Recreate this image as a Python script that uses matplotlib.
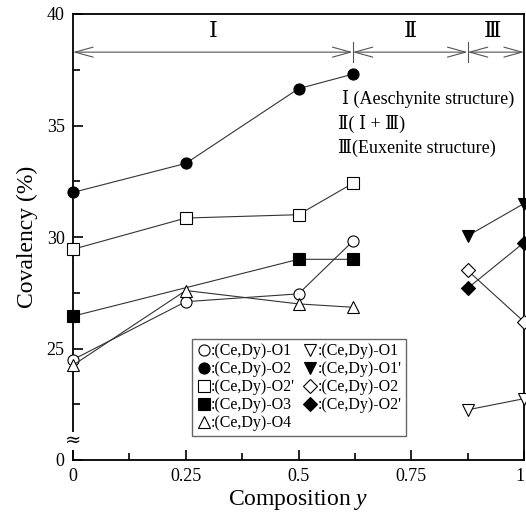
import matplotlib
matplotlib.use("Agg")
import matplotlib.pyplot as plt
from matplotlib.lines import Line2D
import matplotlib.transforms as mtransforms

plt.rcParams['font.family'] = ['Liberation Serif', 'DejaVu Serif']
plt.rcParams['mathtext.fontset'] = 'custom'
plt.rcParams['mathtext.rm'] = 'Liberation Serif'
plt.rcParams['mathtext.it'] = 'Liberation Serif:italic'

# ---- data ----
x_aes = [0, 0.25, 0.5, 0.62]
aes_O1 = [24.5, 27.1, 27.45, 29.8]
aes_O2 = [32.0, 33.3, 36.65, 37.3]
aes_O2p = [29.45, 30.85, 31.0, 32.4]
x_aes_O3 = [0, 0.5, 0.62]
aes_O3 = [26.45, 29.0, 29.0]
aes_O4 = [24.25, 27.6, 27.0, 26.85]

x_eux = [0.875, 1.0]
eux_O1 = [22.25, 22.75]
eux_O1p = [30.05, 31.5]
eux_O2 = [28.5, 26.2]
eux_O2p = [27.7, 29.75]

region_bounds = [0.0, 0.62, 0.875, 1.0]
region_names = ['Ⅰ', 'Ⅱ', 'Ⅲ']
region_label_x = [0.31, 0.747, 0.93]

xticks = [0, 0.25, 0.5, 0.75, 1]
xticklabels = ['0', '0.25', '0.5', '0.75', '1']
yticks = [20, 25, 30, 35, 40]
yticklabels = ['0', '25', '30', '35', '40']

legend_labels = [':(Ce,Dy)-O1', ':(Ce,Dy)-O2', ":(Ce,Dy)-O2'", ':(Ce,Dy)-O3', ':(Ce,Dy)-O4',
                 ':(Ce,Dy)-O1', ":(Ce,Dy)-O1'", ':(Ce,Dy)-O2', ":(Ce,Dy)-O2'"]

# ---- figure ----
fig = plt.figure(figsize=(5.26, 5.22), dpi=100)
ax = fig.add_axes([73/526, (522-460)/522, 451/526, 446/522])

lc = '#333333'
ms = 8
def series(x, y, marker, filled, msz=ms):
    ax.plot(x, y, color=lc, lw=0.8, marker=marker, markersize=msz,
            markerfacecolor='black' if filled else 'white',
            markeredgecolor='black', markeredgewidth=0.8, clip_on=False, zorder=3)

series(x_aes, aes_O1, 'o', False)
series(x_aes, aes_O2, 'o', True)
series(x_aes, aes_O2p, 's', False)
series(x_aes_O3, aes_O3, 's', True)
series(x_aes, aes_O4, '^', False, 9)
series(x_eux, eux_O1, 'v', False, 9)
series(x_eux, eux_O1p, 'v', True, 9)
series(x_eux, eux_O2, 'D', False, 7.5)
series(x_eux, eux_O2p, 'D', True, 7.5)

ax.set_xlim(0, 1)
ax.set_ylim(20, 40)
ax.set_xticks(xticks)
ax.set_xticklabels(xticklabels)
ax.set_xticks([0.125, 0.375, 0.625, 0.875], minor=True)
ax.set_yticks(yticks)
ax.set_yticklabels(yticklabels)
ax.set_yticks([22.5, 27.5, 32.5, 37.5], minor=True)
ax.tick_params(which='both', direction='in', labelsize=13, top=False, right=False, width=1.2)
ax.tick_params(which='major', length=7, pad=6)
ax.tick_params(which='minor', length=5)
for s in ax.spines.values():
    s.set_linewidth(1.3)

# keep the last x tick label inside the figure
last = ax.get_xticklabels()[-1]
last.set_transform(last.get_transform() + mtransforms.ScaledTranslation(-4/100, 0, fig.dpi_scale_trans))

ax.set_xlabel('Composition $\\mathit{y}$', fontsize=17, labelpad=2)
ax.set_ylabel('Covalency (%)', fontsize=17, labelpad=6)

# axis break symbol
ax.text(0, 20.85, '≈', fontsize=14, ha='center', va='center', clip_on=False,
        bbox=dict(facecolor='white', edgecolor='none', pad=0), zorder=5,
        family=['DejaVu Serif'])

# region arrows
ya = 38.29
ac = '#555555'
for i in range(3):
    ax.annotate('', xy=(region_bounds[i+1], ya), xytext=(region_bounds[i], ya),
                arrowprops=dict(arrowstyle='<->,head_length=1.3,head_width=0.36',
                                color=ac, lw=0.8, shrinkA=0, shrinkB=0))
    ax.text(region_label_x[i], 39.15, region_names[i], fontsize=16, ha='center', va='center')
for b in region_bounds[1:3]:
    ax.plot([b, b], [ya - 0.45, ya + 0.45], color=ac, lw=0.8)

# structure notes
ax.text(0.596, 36.17, 'Ⅰ (Aeschynite structure)', fontsize=13, ha='left', va='center')
ax.text(0.588, 35.09, 'Ⅱ( Ⅰ + Ⅲ)', fontsize=13, ha='left', va='center')
ax.text(0.588, 34.01, 'Ⅲ(Euxenite structure)', fontsize=13, ha='left', va='center')

# legend
specs = [('o', False, ms), ('o', True, ms), ('s', False, ms), ('s', True, ms), ('^', False, 9),
         ('v', False, 9), ('v', True, 9), ('D', False, 7.5), ('D', True, 7.5)]
handles = [Line2D([], [], ls='none', marker=m, markersize=sz,
                  markerfacecolor='black' if f else 'white', markeredgecolor='black',
                  markeredgewidth=0.8) for m, f, sz in specs]
leg = ax.legend(handles, legend_labels, ncol=2, loc='lower left',
                bbox_to_anchor=(0.264, 0.054), fontsize=11.5, frameon=True,
                fancybox=False, edgecolor='#666666', framealpha=1,
                handlelength=0.9, handletextpad=0.0, labelspacing=0.12,
                columnspacing=0.5, borderpad=0.3, borderaxespad=0)
leg.get_frame().set_linewidth(1.0)

fig.savefig('out.png', dpi=100)
